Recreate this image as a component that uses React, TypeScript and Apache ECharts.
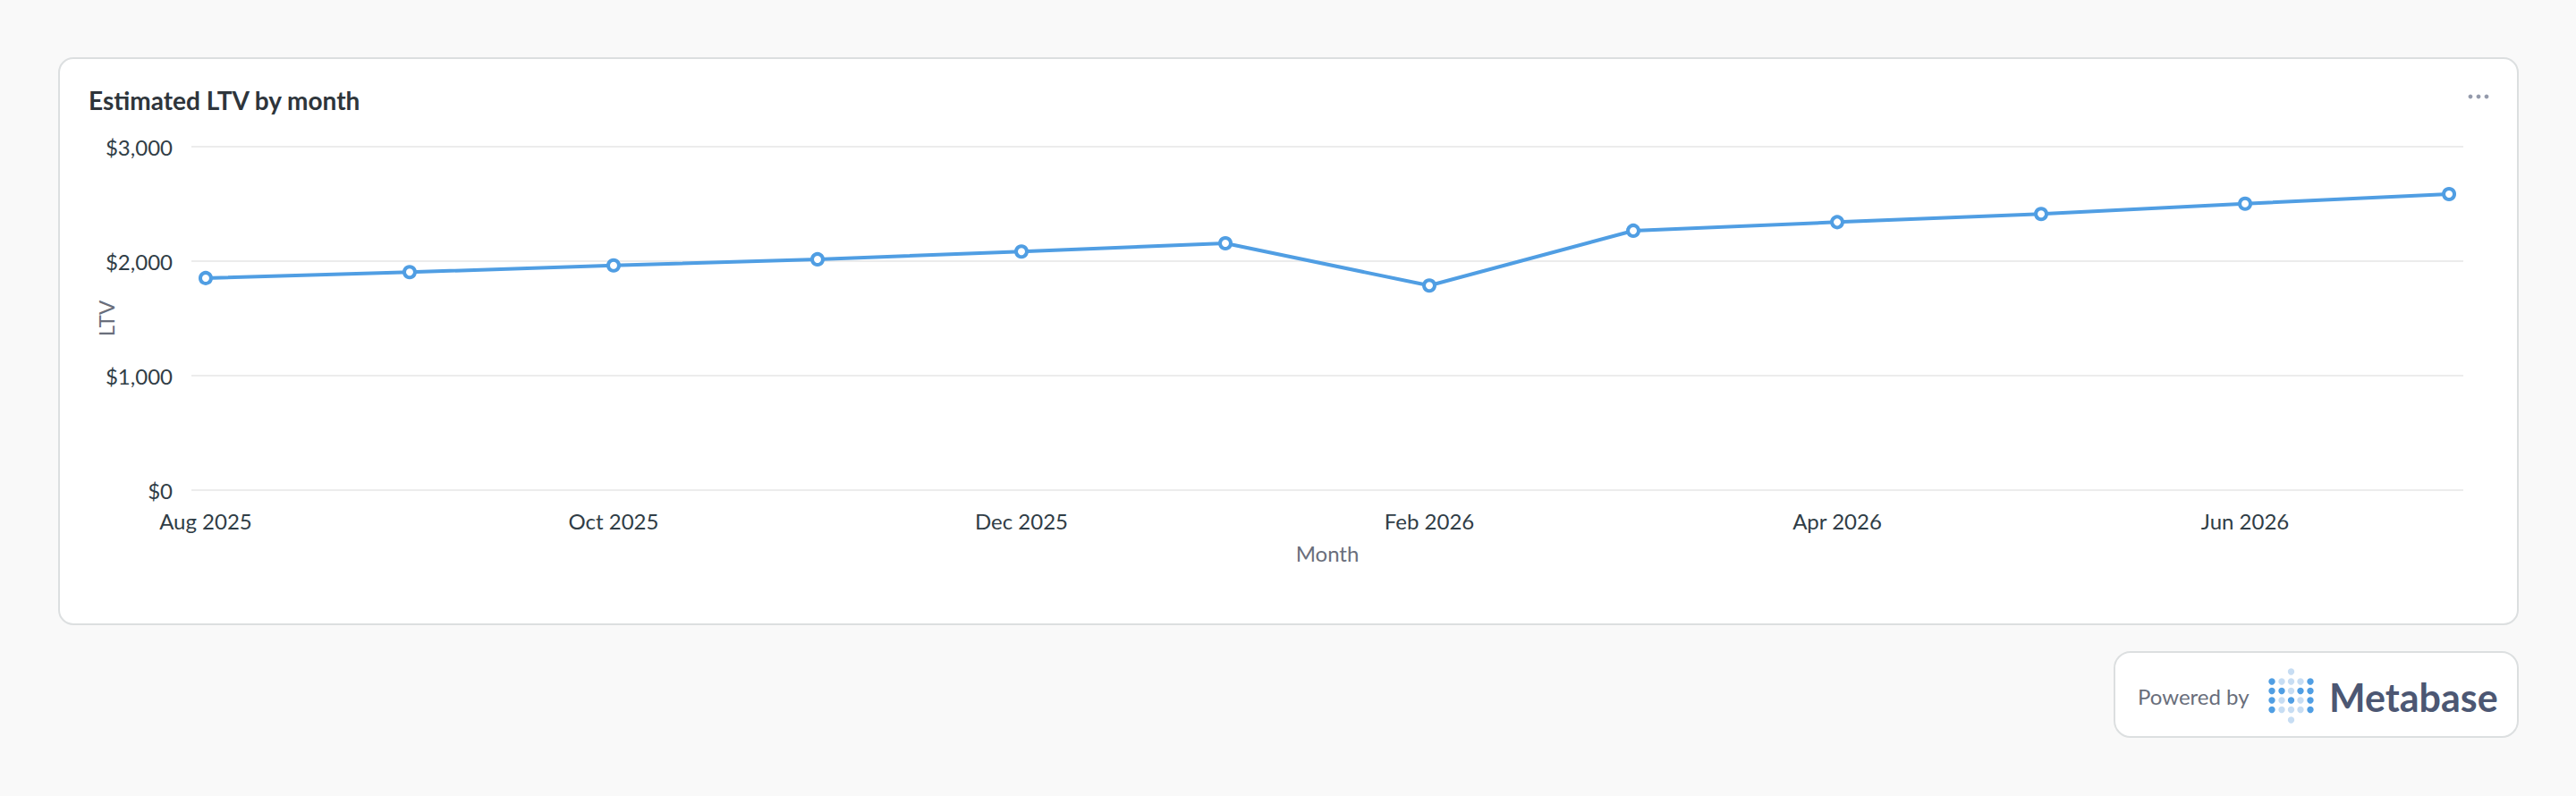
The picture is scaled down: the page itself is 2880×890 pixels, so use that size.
import React, { useEffect, useRef } from "react";
import * as echarts from "echarts";

const months = [
  "Aug 2025", "Sep 2025", "Oct 2025", "Nov 2025", "Dec 2025", "Jan 2026",
  "Feb 2026", "Mar 2026", "Apr 2026", "May 2026", "Jun 2026", "Jul 2026",
];
const ltvValues = [1852, 1904, 1963, 2016, 2084, 2156, 1787, 2266, 2341, 2412, 2502, 2586];
const yTicks = [0, 1000, 2000, 3000];

const chartTitle = "Estimated LTV by month";
const xAxisName = "Month";
const yAxisName = "LTV";

// Metabase logo dot pattern: 1 = strong, 0 = light
const logoRows = [
  [1, 0, 0, 0, 1],
  [1, 1, 0, 1, 1],
  [1, 0, 1, 0, 1],
  [1, 0, 0, 0, 1],
];

const FONT = "Lato, 'Noto Sans', sans-serif";
const BLUE = "#509ee3";
const LIGHT_BLUE = "#c7ddf3";

export default function App() {
  const ref = useRef<HTMLDivElement>(null);

  useEffect(() => {
    document.body.style.margin = "0";
    document.body.style.background = "#f9f9f9";
    if (!ref.current) return;
    const chart = echarts.init(ref.current, undefined, { renderer: "svg" });

    const logoDots: any[] = [];
    const colX = [2540, 2551, 2561.5, 2572, 2583];
    const rowY = [762, 772.5, 783, 793.5];
    logoRows.forEach((row, r) =>
      row.forEach((v, c) =>
        logoDots.push({
          type: "circle",
          z: 10,
          shape: { cx: colX[c], cy: rowY[r], r: 3.7 },
          style: { fill: v ? BLUE : LIGHT_BLUE },
        })
      )
    );
    logoDots.push({ type: "circle", z: 10, shape: { cx: colX[2], cy: 751, r: 3.7 }, style: { fill: LIGHT_BLUE } });
    logoDots.push({ type: "circle", z: 10, shape: { cx: colX[2], cy: 805, r: 3.7 }, style: { fill: LIGHT_BLUE } });

    const option: any = {
      animation: false,
      backgroundColor: "#f9f9f9",
      title: {
        text: chartTitle,
        left: 94,
        top: 93,
        textStyle: { fontFamily: FONT, fontSize: 28, fontWeight: 700, color: "#2e353b" },
      },
      graphic: [
        {
          type: "rect",
          z: -1,
          shape: { x: 66, y: 65, width: 2749, height: 633, r: 16 },
          style: { fill: "#ffffff", stroke: "#dcdfe0", lineWidth: 2 },
        },
        ...[2762, 2771, 2780].map((cx) => ({
          type: "circle",
          z: 10,
          shape: { cx, cy: 108, r: 2.4 },
          style: { fill: "#949aab" },
        })),
        {
          type: "rect",
          z: -1,
          shape: { x: 2364, y: 729, width: 451, height: 95, r: 18 },
          style: { fill: "#ffffff", stroke: "#dcdfe0", lineWidth: 2 },
        },
        {
          type: "text",
          z: 10,
          x: 2390,
          y: 778,
          style: {
            text: "Powered by",
            fontFamily: FONT,
            fontSize: 24,
            fill: "#696e7b",
            align: "left",
            verticalAlign: "middle",
          },
        },
        ...logoDots,
        {
          type: "text",
          z: 10,
          x: 2604,
          y: 779,
          style: {
            text: "Metabase",
            fontFamily: FONT,
            fontSize: 43,
            fontWeight: 700,
            fill: "#4c5773",
            align: "left",
            verticalAlign: "middle",
          },
        },
      ],
      grid: { left: 214, right: 126, top: 164, bottom: 342, containLabel: false },
      xAxis: {
        type: "value",
        min: -0.07,
        max: 11.07,
        splitNumber: 5,
        name: xAxisName,
        nameLocation: "middle",
        nameGap: 58,
        nameMoveOverlap: false,
        nameTextStyle: { fontFamily: FONT, fontSize: 24, color: "#696e7b" },
        axisLine: { show: false },
        axisTick: { show: false },
        splitLine: { show: false },
        axisLabel: {
          margin: 22,
          fontFamily: FONT,
          fontSize: 24,
          color: "#303d46",
          hideOverlap: false,
          formatter: (v: number) => {
            const i = Math.round(v);
            if (Math.abs(v - i) > 1e-6 || i < 0 || i >= months.length || i % 2 !== 0) return "";
            return months[i];
          },
        },
      },
      yAxis: {
        type: "value",
        min: yTicks[0],
        max: yTicks[yTicks.length - 1],
        interval: yTicks[1] - yTicks[0],
        name: yAxisName,
        nameLocation: "middle",
        nameGap: 84,
        nameMoveOverlap: false,
        nameTextStyle: { fontFamily: FONT, fontSize: 24, color: "#696e7b" },
        axisLine: { show: false },
        axisTick: { show: false },
        splitLine: { lineStyle: { color: "#ececec", width: 2 } },
        axisLabel: {
          margin: 21,
          fontFamily: FONT,
          fontSize: 24,
          color: "#303d46",
          formatter: (v: number) => "$" + v.toLocaleString("en-US"),
        },
      },
      series: [
        {
          type: "line",
          data: ltvValues.map((v, i) => [i, v]),
          lineStyle: { color: BLUE, width: 4 },
          symbol: "circle",
          symbolSize: 12,
          itemStyle: { color: "#ffffff", borderColor: BLUE, borderWidth: 4 },
          z: 3,
        },
      ],
    };
    chart.setOption(option);
    return () => chart.dispose();
  }, []);

  return <div ref={ref} style={{ width: 2880, height: 890 }} />;
}
